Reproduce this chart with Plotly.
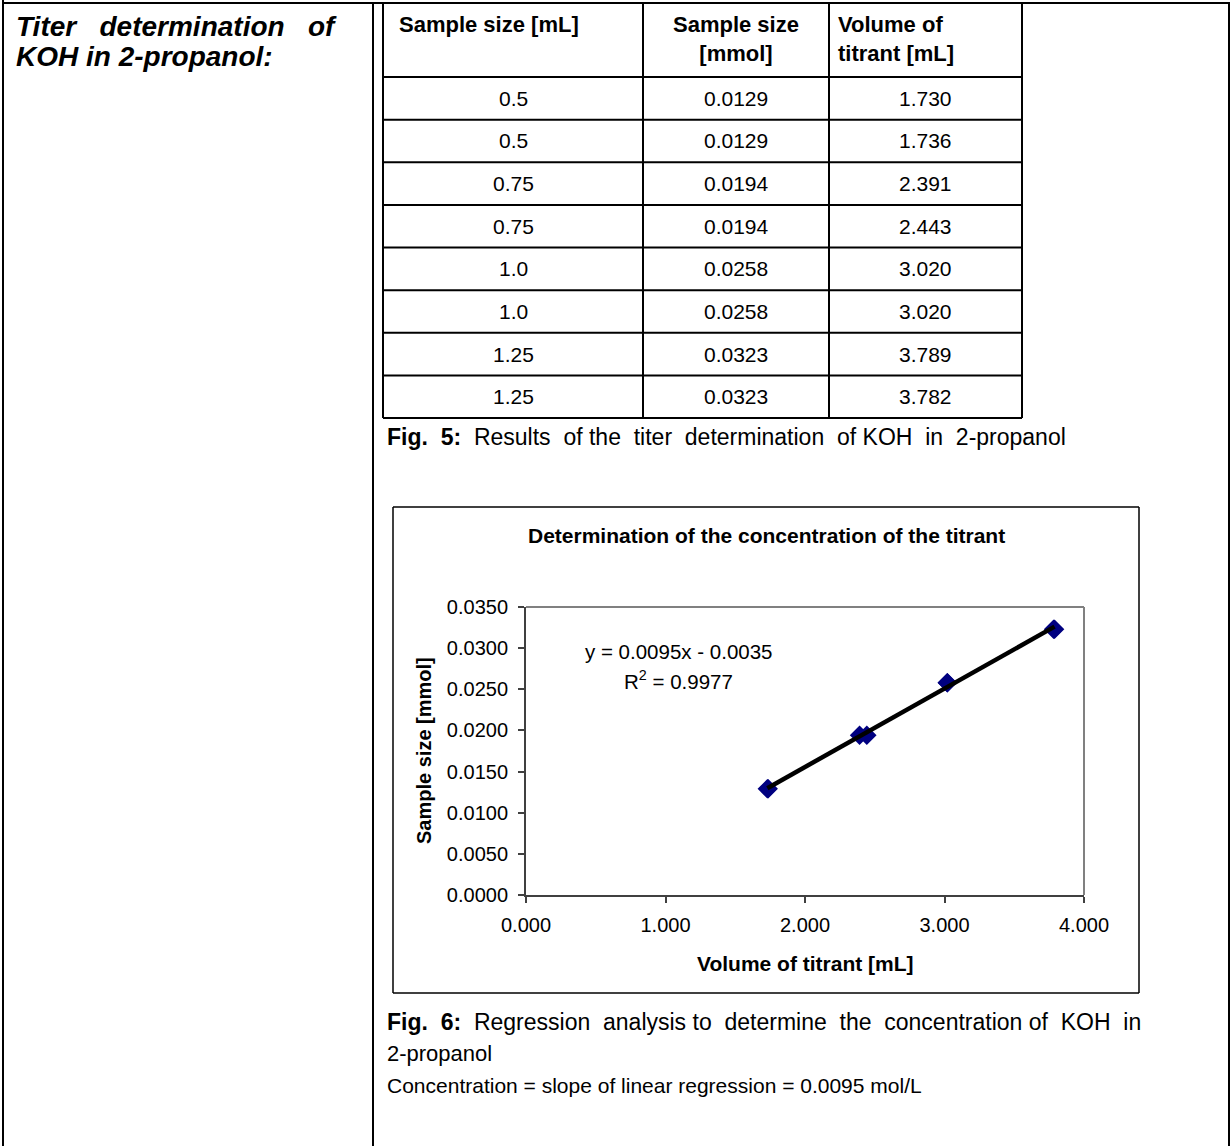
import numpy as np
import plotly.graph_objects as go

# ---------------- data ----------------
sample_ml_labels = ["0.5", "0.5", "0.75", "0.75", "1.0", "1.0", "1.25", "1.25"]
sample_mmol = [0.0129, 0.0129, 0.0194, 0.0194, 0.0258, 0.0258, 0.0323, 0.0323]
titrant_ml = [1.730, 1.736, 2.391, 2.443, 3.020, 3.020, 3.789, 3.782]

header_labels = ["Sample size [mL]", "Sample size<br>[mmol]", "Volume of<br>titrant [mL]"]
side_title_lines = ["Titer determination of", "KOH in 2-propanol:"]
chart_title = "Determination of the concentration of the titrant"
x_title = "Volume of titrant [mL]"
y_title = "Sample size [mmol]"
equation_lines = ["y = 0.0095x - 0.0035", "R<sup>2</sup> = 0.9977"]
fig5_caption = ("Fig. 5:", "Results of the titer determination of KOH in 2-propanol")
fig6_caption_lines = ("Fig. 6:", "Regression analysis to determine the concentration of KOH in", "2-propanol")
conclusion = "Concentration = slope of linear regression = 0.0095 mol/L"

x_ticks = [0, 1, 2, 3, 4]
y_ticks = [0.0, 0.005, 0.010, 0.015, 0.020, 0.025, 0.030, 0.035]

# ---------------- layout helpers ----------------
W, H = 1232, 1146
FONT = "Arial, Liberation Sans, sans-serif"
NBSP = "\u00a0"


def px(x):
    return x / W


def py(y):
    return 1 - y / H


def justify(bold_part, rest, narrow_gaps=()):
    """Join words with double spaces (justified-line look), except the listed gaps."""
    words = bold_part.split(" ") + rest.split(" ")
    nb = len(bold_part.split(" "))
    out = ""
    for i, w in enumerate(words):
        ww = f"<b>{w}</b>" if i < nb else w
        if i > 0:
            out += NBSP * (1 if i in narrow_gaps else 2)
        out += ww
    return out


shapes = []
annotations = []


def line(x0, y0, x1, y1, color="black", width=2):
    shapes.append(dict(type="line", xref="paper", yref="paper",
                       x0=px(x0), y0=py(y0), x1=px(x1), y1=py(y1),
                       line=dict(color=color, width=width)))


def text(x, y, s, size=20, xanchor="center", yanchor="middle", bold=False, italic=False, align="center"):
    if italic:
        s = f"<i>{s}</i>"
    if bold:
        s = f"<b>{s}</b>"
    annotations.append(dict(xref="paper", yref="paper", x=px(x), y=py(y), text=s,
                            showarrow=False, xanchor=xanchor, yanchor=yanchor, align=align,
                            font=dict(family=FONT, size=size, color="black")))


# outer frame
line(3, 0, 3, H)
line(2, 3, 1230, 3)
line(1229, 2, 1229, H)
line(373, 2, 373, H)

# left title (first line justified)
text(14, 26, (NBSP * 3).join(side_title_lines[0].split(" ")), size=28, xanchor="left",
     bold=True, italic=True, align="left")
text(14, 57, side_title_lines[1], size=28, xanchor="left", bold=True, italic=True, align="left")

# inner table geometry
tl, tr = 383, 1022
col_x = [383, 643, 829, 1022]
top_y, head_bottom, bottom_y = 3, 77, 418
n_rows = len(titrant_ml)
row_h = (bottom_y - head_bottom) / n_rows
for xv in col_x:
    line(xv, top_y, xv, bottom_y)
line(tl, top_y, tr, top_y)
line(tl, head_bottom, tr, head_bottom)
for i in range(n_rows):
    yb = head_bottom + row_h * (i + 1)
    line(tl, yb, tr, yb)

# header text
text(397, 24, header_labels[0], size=22, xanchor="left", bold=True, align="left")
text((col_x[1] + col_x[2]) / 2, 39, header_labels[1], size=22, bold=True)
text(836, 39, header_labels[2], size=22, xanchor="left", bold=True, align="left")

# data cells
for i in range(n_rows):
    yc = head_bottom + row_h * (i + 0.5)
    text((col_x[0] + col_x[1]) / 2, yc, sample_ml_labels[i], size=21)
    text((col_x[1] + col_x[2]) / 2, yc, f"{sample_mmol[i]:.4f}", size=21)
    text((col_x[2] + col_x[3]) / 2, yc, f"{titrant_ml[i]:.3f}", size=21)

# captions
text(385, 437, justify(fig5_caption[0], fig5_caption[1], narrow_gaps=(4, 8)), size=23,
     xanchor="left", align="left")
text(385, 1022, justify(fig6_caption_lines[0], fig6_caption_lines[1], narrow_gaps=(4, 8)), size=23,
     xanchor="left", align="left")
text(385, 1053, fig6_caption_lines[2], size=22, xanchor="left", align="left")
text(385, 1085, conclusion, size=21, xanchor="left", align="left")

# chart box
line(393, 507, 1139, 507, width=1.5)
line(393, 993, 1139, 993, width=1.5)
line(393, 507, 393, 993, width=1.5)
line(1139, 507, 1139, 993, width=1.5)

# chart title
text(766, 535, chart_title, size=21, bold=True)

# plot area
PL, PR, PT, PB = 526, 1084, 607, 895
line(PL, PT, PR, PT, color="#808080", width=2)
line(PR, PT, PR, PB, color="#808080", width=2)

# axis titles
text((PL + PR) / 2, 963, x_title, size=21, bold=True)
annotations.append(dict(xref="paper", yref="paper", x=px(424), y=py((PT + PB) / 2),
                        text=f"<b>{y_title}</b>", showarrow=False, textangle=-90,
                        xanchor="center", yanchor="middle",
                        font=dict(family=FONT, size=20, color="black")))

# equation
text(678, 651, equation_lines[0], size=20.5)
text(678, 680, equation_lines[1], size=20.5)

# ---------------- traces ----------------
x = np.array(titrant_ml)
y = np.array(sample_mmol)
slope, intercept = np.polyfit(x, y, 1)
xfit = np.array([x.min(), x.max()])
yfit = slope * xfit + intercept

fig = go.Figure()
fig.add_trace(go.Scatter(x=titrant_ml, y=sample_mmol, mode="markers",
                         marker=dict(symbol="diamond", size=15, color="#000080",
                                     line=dict(width=0)),
                         showlegend=False, hoverinfo="skip"))
fig.add_trace(go.Scatter(x=xfit, y=yfit, mode="lines",
                         line=dict(color="black", width=4.5),
                         showlegend=False, hoverinfo="skip"))

axis_common = dict(showgrid=False, zeroline=False, showline=True, linecolor="#404040", linewidth=2,
                   ticks="outside", ticklen=6, tickcolor="#404040", tickwidth=1.5,
                   automargin=False,
                   tickfont=dict(family=FONT, size=20, color="black"))

fig.update_layout(
    width=W, height=H,
    autosize=False,
    margin=dict(l=0, r=0, t=0, b=0, pad=0, autoexpand=False),
    paper_bgcolor="white", plot_bgcolor="white",
    showlegend=False,
    shapes=shapes, annotations=annotations,
    font=dict(family=FONT, size=20, color="black"),
    xaxis=dict(domain=[px(PL), px(PR)], range=[0, 4], tickvals=x_ticks,
               ticktext=[f"{v:.3f}" for v in x_ticks], ticklabelstandoff=5, **axis_common),
    yaxis=dict(domain=[py(PB), py(PT)], range=[0, 0.035], tickvals=y_ticks,
               ticktext=[f"{v:.4f}" for v in y_ticks], ticklabelstandoff=6, **axis_common),
)

fig.write_html("out.html", config={"displayModeBar": False},
               post_script="document.body.style.margin='0';")
